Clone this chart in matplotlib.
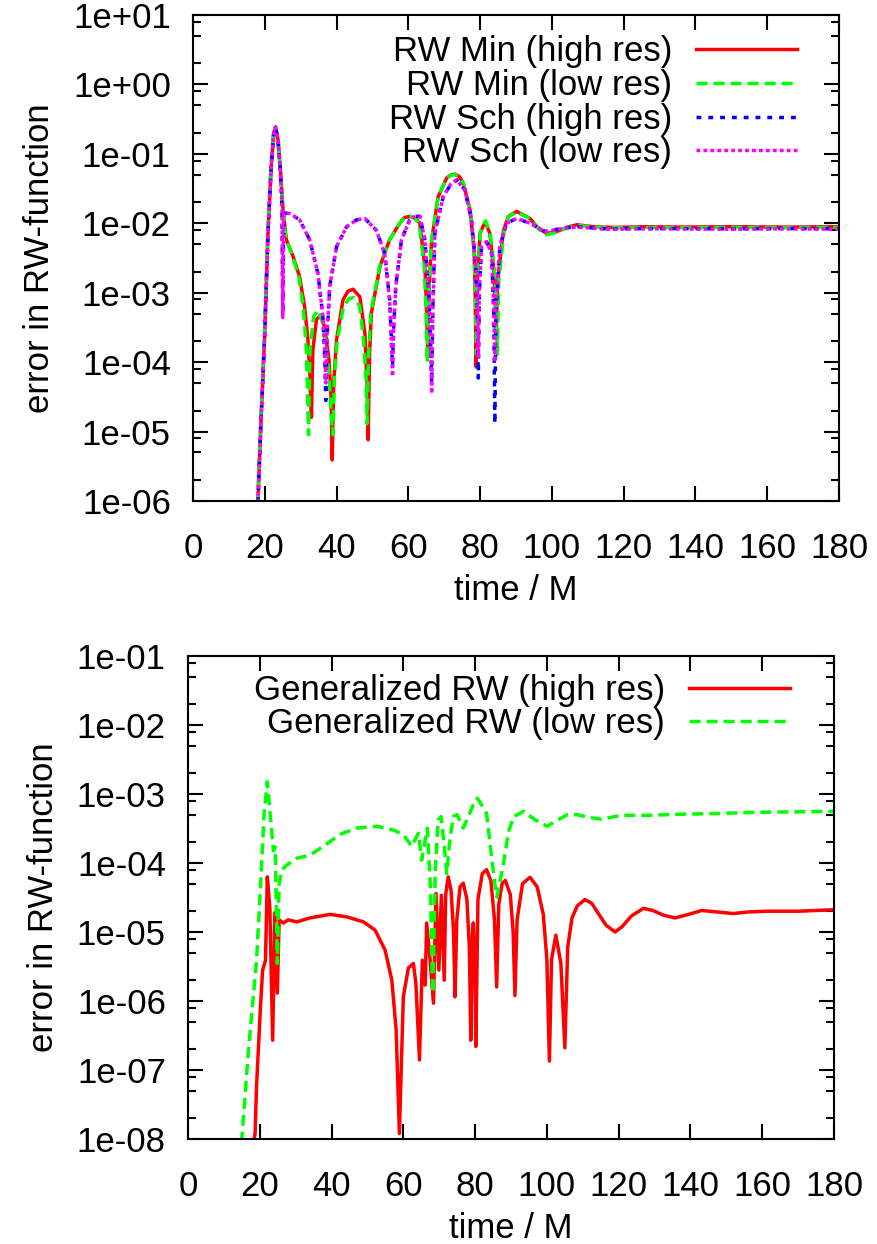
import numpy as np
import matplotlib.pyplot as plt
from matplotlib.ticker import LogLocator, MultipleLocator, FuncFormatter, NullFormatter

plt.rcParams['font.family'] = ['Liberation Sans', 'DejaVu Sans']
plt.rcParams['font.size'] = 25

# ---- top panel data (time / M, error) ----
t_min_hi = [17.5, 18.1, 19.0, 20.0, 20.9, 21.8, 22.5, 23.0, 23.7, 24.3, 25.1, 26.0, 27.9, 29.7,
            31.1, 32.0, 32.6, 33.0, 33.4, 34.4, 35.5, 36.7, 37.9, 38.5, 38.8, 39.2, 40.0, 41.8,
            43.2, 44.6, 46.5, 47.9, 48.5, 48.8, 49.2, 49.7, 52.1, 54.8, 57.6, 58.9, 60.4, 61.9,
            63.2, 64.6, 65.0, 65.4, 65.8, 66.5, 68.3, 70.7, 71.9, 73.0, 74.2, 75.3, 77.2, 78.3,
            78.6, 78.9, 79.3, 80.0, 81.4, 82.7, 83.7, 84.1, 84.5, 84.9, 86.5, 87.9, 90.2, 93.9,
            96.2, 98.6, 101.4, 104.6, 107.0, 111.6, 117.0, 125.0, 135.0, 150.0, 165.0, 180.0]
e_min_hi = [3e-7, 1e-6, 1.6e-5, 2.6e-4, 7.2e-3, 6.6e-2, 0.2, 0.245, 0.158, 0.066, 1.55e-2, 5.8e-3,
            3.3e-3, 1.7e-3, 6.3e-4, 2.2e-4, 6e-5, 1.6e-5, 1.5e-4, 4.1e-4, 4.7e-4, 3.2e-4, 1.07e-4,
            3e-5, 3.9e-6, 5e-5, 2.1e-4, 7.9e-4, 1.05e-3, 1.12e-3, 8.7e-4, 2.6e-4, 5e-5, 7.6e-6,
            1.3e-4, 5.1e-4, 2.4e-3, 5.8e-3, 1.0e-2, 1.2e-2, 1.26e-2, 1.18e-2, 1.0e-2, 2.4e-3, 8e-4,
            1.3e-4, 1.2e-3, 5.8e-3, 2.4e-2, 4.5e-2, 4.95e-2, 5.1e-2, 4.7e-2, 3.8e-2, 1.55e-2,
            4.2e-3, 1.2e-3, 8.5e-5, 1.8e-3, 7.2e-3, 1.05e-2, 7.2e-3, 2.4e-3, 1e-3, 3e-4, 1.5e-3,
            7.9e-3, 1.26e-2, 1.48e-2, 1.17e-2, 8.5e-3, 7.1e-3, 7.6e-3, 8.9e-3, 9.5e-3, 8.9e-3,
            8.7e-3, 8.9e-3, 8.8e-3, 8.9e-3, 8.8e-3, 8.9e-3]

t_min_lo = [17.5, 18.0, 18.9, 19.9, 20.8, 21.7, 22.4, 22.9, 23.6, 24.2, 25.0, 25.9, 27.8, 29.6,
            30.8, 31.6, 32.2, 32.6, 33.6, 34.8, 36.2, 37.8, 38.6, 39.0, 39.4, 40.2, 42.0, 43.5,
            44.8, 46.4, 47.5, 48.2, 48.5, 48.9, 49.5, 52.0, 54.8, 57.6, 58.9, 60.4, 61.8, 63.0,
            64.4, 64.9, 65.3, 65.7, 66.5, 68.3, 70.7, 71.9, 73.0, 74.2, 75.3, 77.2, 78.3, 78.7,
            79.0, 79.3, 80.1, 81.5, 82.8, 83.9, 84.4, 84.8, 85.2, 86.7, 88.0, 90.2, 93.9, 96.2,
            98.6, 101.4, 104.6, 107.0, 111.6, 117.0, 125.0, 135.0, 150.0, 165.0, 180.0]
e_min_lo = [3e-7, 1e-6, 1.6e-5, 2.6e-4, 7.2e-3, 6.6e-2, 0.2, 0.24, 0.158, 0.068, 1.6e-2, 6e-3,
            3.3e-3, 1.6e-3, 5.5e-4, 1.5e-4, 9e-6, 1.5e-4, 4.5e-4, 5.6e-4, 3.6e-4, 8e-5, 1.5e-5,
            9e-6, 6e-5, 2.1e-4, 6.5e-4, 8.2e-4, 8.5e-4, 6.5e-4, 2.2e-4, 6e-5, 1.3e-5, 1.2e-4, 5e-4,
            2.4e-3, 5.8e-3, 1.0e-2, 1.2e-2, 1.26e-2, 1.18e-2, 1.0e-2, 2.5e-3, 6e-4, 9.8e-5, 1.1e-3,
            5.8e-3, 2.4e-2, 4.5e-2, 4.9e-2, 5.0e-2, 4.6e-2, 3.8e-2, 1.55e-2, 4.2e-3, 1.0e-3,
            1.3e-4, 1.7e-3, 7.5e-3, 1.08e-2, 7.2e-3, 2.4e-3, 9e-4, 1.3e-4, 1.5e-3, 7.9e-3, 1.26e-2,
            1.45e-2, 1.17e-2, 8.3e-3, 6.8e-3, 7.5e-3, 8.7e-3, 9.3e-3, 8.8e-3, 8.6e-3, 8.7e-3,
            8.6e-3, 8.7e-3, 8.6e-3, 8.7e-3]

t_sch_hi = [17.5, 18.1, 19.0, 20.0, 20.9, 21.8, 22.5, 23.0, 23.7, 24.3, 24.8, 25.0, 25.3, 27.0,
            29.7, 32.5, 34.8, 36.2, 36.7, 37.0, 37.3, 38.1, 40.0, 42.8, 45.6, 47.9, 51.1, 53.4,
            54.8, 55.3, 55.6, 55.9, 56.5, 58.1, 60.4, 61.9, 63.2, 64.6, 65.8, 66.2, 66.5, 66.8,
            67.4, 69.7, 71.9, 73.5, 75.8, 77.6, 78.8, 79.2, 79.5, 79.8, 80.4, 81.8, 83.2, 83.8,
            84.1, 84.4, 85.5, 87.4, 90.2, 93.9, 98.1, 103.2, 107.0, 115.0, 130.0, 150.0, 165.0,
            180.0]
e_sch_hi = [3e-7, 1e-6, 1.6e-5, 2.6e-4, 7.2e-3, 6.6e-2, 0.2, 0.24, 0.155, 0.063, 1.8e-2, 5e-4,
            1.4e-2, 1.38e-2, 1.12e-2, 5.8e-3, 1.9e-3, 4.5e-4, 1.2e-4, 2.8e-5, 2e-4, 1.23e-3,
            4.6e-3, 8.9e-3, 1.12e-2, 1.17e-2, 7.9e-3, 3.7e-3, 7.9e-4, 2e-4, 9e-5, 3e-4, 1.23e-3,
            5.8e-3, 1.12e-2, 1.25e-2, 1.26e-2, 5.8e-3, 7.9e-4, 2e-4, 5e-5, 5e-4, 7.2e-3, 2.4e-2,
            3.7e-2, 4.2e-2, 3.0e-2, 1.12e-2, 2.4e-3, 6e-4, 5.9e-5, 1e-3, 4.6e-3, 5.4e-3, 3.7e-3,
            5e-4, 1.3e-5, 5e-4, 4.6e-3, 1.0e-2, 1.17e-2, 1.0e-2, 7.6e-3, 8.5e-3, 8.9e-3, 8.3e-3,
            8.4e-3, 8.3e-3, 8.4e-3, 8.3e-3]

t_sch_lo = t_sch_hi
e_sch_lo = [3e-7, 1e-6, 1.6e-5, 2.6e-4, 7.2e-3, 6.6e-2, 0.2, 0.24, 0.155, 0.063, 1.8e-2, 4.4e-4,
            1.4e-2, 1.38e-2, 1.12e-2, 5.8e-3, 1.9e-3, 4.5e-4, 1.5e-4, 5e-5, 2.2e-4, 1.23e-3,
            4.6e-3, 8.9e-3, 1.12e-2, 1.17e-2, 7.9e-3, 3.7e-3, 7.9e-4, 1.8e-4, 6.2e-5, 2.8e-4,
            1.23e-3, 5.8e-3, 1.12e-2, 1.25e-2, 1.26e-2, 5.8e-3, 7.9e-4, 1.8e-4, 3.5e-5, 4.5e-4,
            7.2e-3, 2.4e-2, 3.7e-2, 4.2e-2, 3.0e-2, 1.12e-2, 2.4e-3, 7e-4, 1.2e-4, 1.1e-3, 4.6e-3,
            5.4e-3, 3.7e-3, 6e-4, 1e-4, 6e-4, 4.6e-3, 1.0e-2, 1.17e-2, 1.0e-2, 7.6e-3, 8.4e-3,
            8.8e-3, 8.2e-3, 8.3e-3, 8.2e-3, 8.3e-3, 8.2e-3]

# ---- bottom panel data ----
t_gen_hi = [17.5, 18.7, 19.1, 20.1, 20.8, 21.6, 22.1, 22.8, 23.6, 24.2, 24.9, 25.4, 26.6, 27.9,
            30.3, 34.0, 39.6, 44.2, 48.9, 52.1, 54.9, 56.8, 58.0, 58.9, 60.0, 61.4, 62.8, 63.5,
            64.5, 65.3, 66.1, 66.5, 67.3, 68.4, 69.1, 69.9, 70.6, 71.4, 71.8, 72.5, 73.3, 74.0,
            74.4, 74.9, 75.8, 76.7, 77.7, 78.4, 78.8, 79.2, 79.5, 79.9, 80.2, 80.8, 82.0, 83.2,
            84.4, 85.4, 86.0, 86.6, 87.5, 88.4, 89.8, 90.6, 91.1, 91.7, 93.2, 95.3, 97.3, 99.0,
            100.0, 100.7, 101.3, 102.5, 103.9, 105.0, 105.8, 107.0, 108.5, 110.6, 112.5, 114.5,
            116.5, 119.0, 121.0, 123.5, 126.9, 129.5, 132.5, 135.7, 139.5, 143.1, 147.5, 151.9,
            156.0, 161.2, 170.0, 180.0]
e_gen_hi = [5e-9, 1.2e-8, 5.8e-8, 6.6e-7, 2.8e-6, 3.9e-6, 6.3e-5, 2.3e-5, 2.7e-7, 1.9e-5, 1.3e-6,
            1.5e-5, 1.35e-5, 1.5e-5, 1.4e-5, 1.6e-5, 1.8e-5, 1.66e-5, 1.4e-5, 1.07e-5, 5.5e-6,
            2e-6, 3.8e-7, 1.2e-8, 1.15e-6, 3e-6, 3.5e-6, 1.8e-6, 1.4e-7, 3.9e-6, 1.7e-6, 1.35e-5,
            5e-6, 9.3e-7, 3.6e-5, 2.8e-6, 3.4e-5, 2e-6, 3.5e-5, 6.3e-5, 4e-5, 1e-5, 1.15e-6,
            1.5e-5, 4.5e-5, 5.1e-5, 3e-5, 6e-6, 2.7e-7, 8e-6, 1.35e-5, 5e-6, 2.2e-7, 3e-5, 7e-5,
            8e-5, 5.5e-5, 1.5e-5, 1.6e-6, 2.5e-5, 5e-5, 5.6e-5, 3.5e-5, 1e-5, 1.2e-6, 1.5e-5,
            5e-5, 6.2e-5, 4.5e-5, 1.8e-5, 4e-6, 1.35e-7, 4e-6, 9e-6, 3.5e-6, 2.1e-7, 6e-6, 1.6e-5,
            2.4e-5, 2.95e-5, 2.6e-5, 1.8e-5, 1.25e-5, 1e-5, 1.2e-5, 1.7e-5, 2.2e-5, 2.05e-5,
            1.75e-5, 1.6e-5, 1.8e-5, 2.05e-5, 1.95e-5, 1.85e-5, 1.95e-5, 2.0e-5, 2.0e-5, 2.1e-5]

t_gen_lo = [14.5, 15.0, 16.8, 18.2, 19.1, 20.3, 21.2, 22.1, 23.3, 23.8, 24.3, 24.9, 25.4, 26.1,
            27.5, 30.3, 34.0, 37.7, 42.4, 47.0, 52.6, 57.2, 60.0, 62.3, 64.2, 65.1, 66.7, 67.5,
            68.2, 68.9, 69.7, 70.5, 71.3, 72.1, 72.9, 73.9, 75.0, 76.7, 78.1, 79.5, 80.6, 81.8,
            83.2, 84.6, 85.5, 86.1, 86.8, 87.9, 89.3, 90.7, 93.5, 96.8, 100.1, 103.0, 105.7,
            108.5, 111.5, 115.1, 120.7, 128.3, 137.6, 147.0, 156.3, 168.0, 180.0]
e_gen_lo = [5e-9, 1e-8, 1.8e-7, 1.15e-6, 3.9e-6, 5.6e-5, 5.2e-4, 1.5e-3, 3e-4, 1.5e-4, 1.7e-4,
            3.5e-6, 5e-5, 7.9e-5, 9.3e-5, 1.17e-4, 1.3e-4, 1.74e-4, 2.6e-4, 3.2e-4, 3.4e-4, 3e-4,
            2.6e-4, 1.74e-4, 2.7e-4, 1.1e-4, 3.2e-4, 5e-5, 1.3e-6, 8e-5, 4.2e-4, 4.7e-4, 2e-4,
            7e-5, 2e-4, 4.7e-4, 5e-4, 3.2e-4, 4.7e-4, 7e-4, 8.7e-4, 7e-4, 5.2e-4, 1.2e-4, 5e-5,
            3.2e-5, 5e-5, 9.8e-5, 2.8e-4, 4.7e-4, 5.6e-4, 4.2e-4, 3.4e-4, 4.2e-4, 5e-4, 5e-4,
            4.6e-4, 4.3e-4, 4.9e-4, 4.9e-4, 5.1e-4, 5.2e-4, 5.4e-4, 5.5e-4, 5.6e-4]

fig = plt.figure(figsize=(8.78, 12.44), dpi=100)
ax1 = fig.add_axes([0.2198, 0.5973, 0.7358, 0.3907])
ax2 = fig.add_axes([0.2141, 0.0844, 0.7358, 0.3883])

lw = 2.5
ax1.plot(t_min_hi, e_min_hi, color='#ff0000', lw=lw, label='RW Min (high res)')
ax1.plot(t_min_lo, e_min_lo, color='#00ff00', lw=lw, dashes=(3.2, 1.7), label='RW Min (low res)')
ax1.plot(t_sch_hi, e_sch_hi, color='#0000ff', lw=lw, dashes=(1.4, 2.0), label='RW Sch (high res)')
ax1.plot(t_sch_lo, e_sch_lo, color='#ff00ff', lw=lw, dashes=(1.1, 0.9), label='RW Sch (low res)')
ax1.set_ylim(1e-6, 1e1)

ax2.plot(t_gen_hi, e_gen_hi, color='#ff0000', lw=lw, label='Generalized RW (high res)')
ax2.plot(t_gen_lo, e_gen_lo, color='#00ff00', lw=lw, dashes=(3.2, 1.7), label='Generalized RW (low res)')
ax2.set_ylim(1e-8, 1e-1)

for ax in (ax1, ax2):
    ax.set_yscale('log')
    ax.set_xlim(0, 180)
    ax.xaxis.set_major_locator(MultipleLocator(20))
    ax.yaxis.set_major_locator(LogLocator(base=10, numticks=20))
    ax.yaxis.set_minor_locator(LogLocator(base=10, subs=(2.0, 5.0, 8.0), numticks=20))
    ax.yaxis.set_minor_formatter(NullFormatter())
    ax.yaxis.set_major_formatter(FuncFormatter(lambda v, p: f"{v:.0e}"))
    ax.tick_params(which='both', direction='in', top=True, right=True, width=1.5)
    ax.tick_params(which='major', length=10.5)
    ax.tick_params(which='minor', length=5.5)
    ax.tick_params(axis='x', pad=22)
    ax.tick_params(axis='y', pad=16)
    for s in ax.spines.values():
        s.set_linewidth(1.5)
    ax.set_xlabel('time / M', labelpad=7)
    ax.set_ylabel('error in RW-function', labelpad=12)

ax1.legend(loc='upper right', bbox_to_anchor=(0.935, 0.958), markerfirst=False, frameon=False,
           handlelength=2.9, handletextpad=0.7, labelspacing=0.02, borderpad=0, borderaxespad=0)
ax2.legend(loc='upper right', bbox_to_anchor=(0.932, 0.962), markerfirst=False, frameon=False,
           handlelength=2.9, handletextpad=0.7, labelspacing=0.0, borderpad=0, borderaxespad=0)

fig.savefig('out.png', dpi=100)
